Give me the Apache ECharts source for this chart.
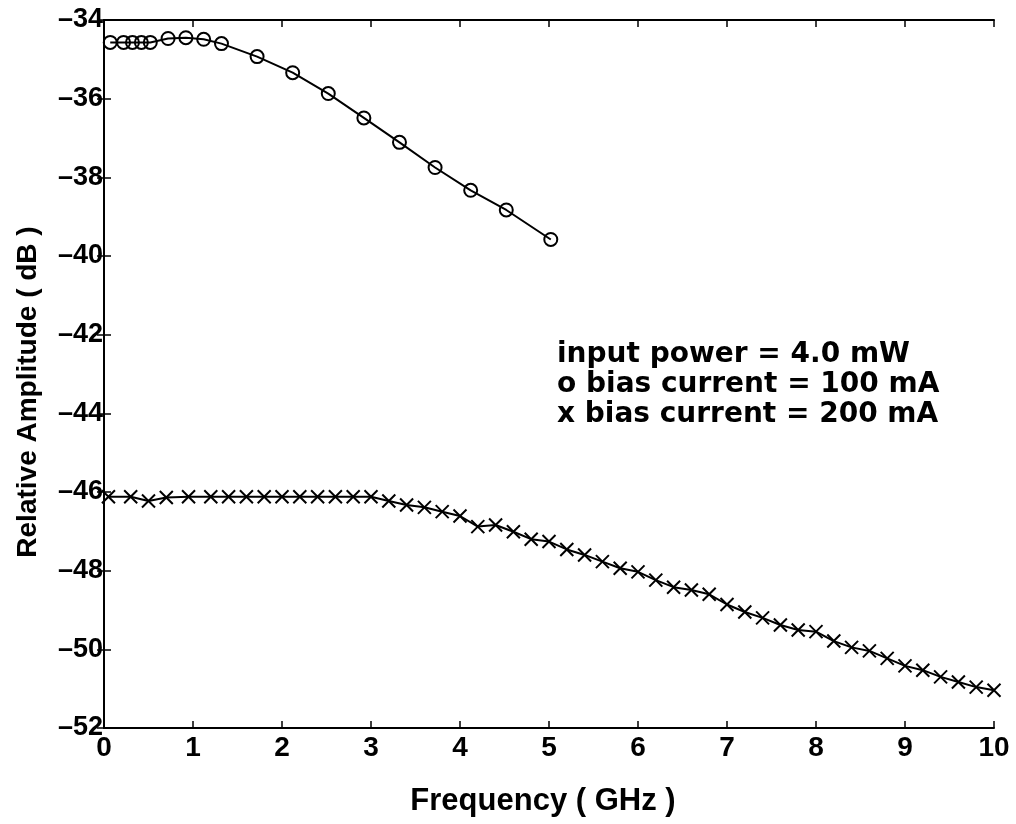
<!DOCTYPE html>
<html>
<head>
<meta charset="utf-8">
<script src="https://cdn.jsdelivr.net/npm/echarts@6/dist/echarts.min.js"></script>
<style>
  html, body { margin: 0; padding: 0; background: #fff; }
  #chart { width: 1016px; height: 824px; }
</style>
</head>
<body>
<div id="chart"></div>
<script>
// Frequency response measured at two bias currents (input power 4.0 mW)
const freq100mA = [0.07, 0.22, 0.32, 0.42, 0.52, 0.72, 0.92, 1.12, 1.32, 1.72, 2.12, 2.52, 2.92, 3.32, 3.72, 4.12, 4.52, 5.02];
const amp100mA  = [-34.57, -34.57, -34.57, -34.57, -34.57, -34.47, -34.45, -34.49, -34.60, -34.93, -35.34, -35.87, -36.49, -37.11, -37.75, -38.33, -38.83, -39.58];

const freq200mA = [0.05, 0.3, 0.5, 0.7, 0.95, 1.2, 1.4, 1.6, 1.8, 2.0, 2.2, 2.4, 2.6, 2.8, 3.0, 3.2, 3.4, 3.6, 3.8, 4.0,
                   4.2, 4.4, 4.6, 4.8, 5.0, 5.2, 5.4, 5.6, 5.8, 6.0, 6.2, 6.4, 6.6, 6.8, 7.0, 7.2, 7.4, 7.6, 7.8, 8.0,
                   8.2, 8.4, 8.6, 8.8, 9.0, 9.2, 9.4, 9.6, 9.8, 10.0];
const amp200mA  = [-46.12, -46.12, -46.23, -46.14, -46.12, -46.12, -46.12, -46.12, -46.12, -46.12, -46.12, -46.12, -46.12, -46.12, -46.12, -46.23, -46.33, -46.39, -46.50, -46.61,
                   -46.88, -46.84, -47.01, -47.20, -47.26, -47.46, -47.60, -47.77, -47.94, -48.03, -48.24, -48.42, -48.49, -48.60, -48.86, -49.05, -49.20, -49.38, -49.51, -49.55,
                   -49.79, -49.95, -50.04, -50.23, -50.42, -50.53, -50.70, -50.83, -50.96, -51.04];

const xTicks = { min: 0, max: 10, interval: 1 };
const yTicks = { min: -52, max: -34, interval: 2 };

const annotationLines = ['input power = 4.0 mW', 'o bias current = 100 mA', 'x bias current = 200 mA'];

const FONT = '"Liberation Sans", Arial, Helvetica, sans-serif';
const WIDE_FONT = '"DejaVu Sans", "Liberation Sans", sans-serif';
const pairs = (xs, ys) => xs.map((x, i) => [x, ys[i]]);

const boxAxis = {
  axisLine: { show: true, lineStyle: { color: '#000', width: 2 } },
  axisTick: { show: true, inside: true, length: 7, lineStyle: { color: '#000', width: 1.5 } },
  splitLine: { show: false }
};

const chart = echarts.init(document.getElementById('chart'), null, { renderer: 'canvas' });
chart.setOption({
  animation: false,
  backgroundColor: '#fff',
  grid: { left: 104, right: 22, top: 20, bottom: 96, containLabel: false },
  xAxis: [
    Object.assign({
      type: 'value', position: 'bottom', ...xTicks,
      name: 'Frequency ( GHz )', nameLocation: 'middle', nameGap: 58,
      nameTextStyle: { color: '#000', fontFamily: FONT, fontWeight: 'bold', fontSize: 31, padding: [0, 12, 0, 0] },
      axisLabel: { color: '#000', fontFamily: FONT, fontWeight: 'bold', fontSize: 28, margin: 6 }
    }, boxAxis),
    Object.assign({
      type: 'value', position: 'top', ...xTicks,
      axisLabel: { show: false }
    }, boxAxis)
  ],
  yAxis: [
    Object.assign({
      type: 'value', position: 'left', ...yTicks,
      name: 'Relative Amplitude ( dB )', nameLocation: 'middle', nameGap: 62,
      nameTextStyle: { color: '#000', fontFamily: FONT, fontWeight: 'bold', fontSize: 28, padding: [0, 36, 0, 0] },
      axisLabel: {
        color: '#000', fontFamily: FONT, fontWeight: 'bold', fontSize: 27, margin: 1,
        formatter: v => String(v).replace('-', '\u2013')
      }
    }, boxAxis),
    Object.assign({
      type: 'value', position: 'right', ...yTicks,
      axisLabel: { show: false }
    }, boxAxis)
  ],
  graphic: [{
    type: 'text',
    left: 557,
    top: 340,
    style: {
      text: annotationLines.join('\n'),
      font: 'bold 28px ' + WIDE_FONT,
      lineHeight: 30,
      fill: '#000',
      align: 'left'
    }
  }],
  series: [
    {
      name: '100 mA', type: 'line', data: pairs(freq100mA, amp100mA),
      symbol: 'circle', symbolSize: 13,
      itemStyle: { color: 'rgba(0,0,0,0)', borderColor: '#000', borderWidth: 2 },
      lineStyle: { color: '#000', width: 2 },
      emphasis: { disabled: true }, z: 3
    },
    {
      name: '200 mA', type: 'line', data: pairs(freq200mA, amp200mA),
      symbol: 'path://M0,0L10,10M0,10L10,0', symbolSize: 13,
      itemStyle: { color: 'rgba(0,0,0,0)', borderColor: '#000', borderWidth: 2 },
      lineStyle: { color: '#000', width: 2 },
      emphasis: { disabled: true }, z: 3
    }
  ]
});
</script>
</body>
</html>
